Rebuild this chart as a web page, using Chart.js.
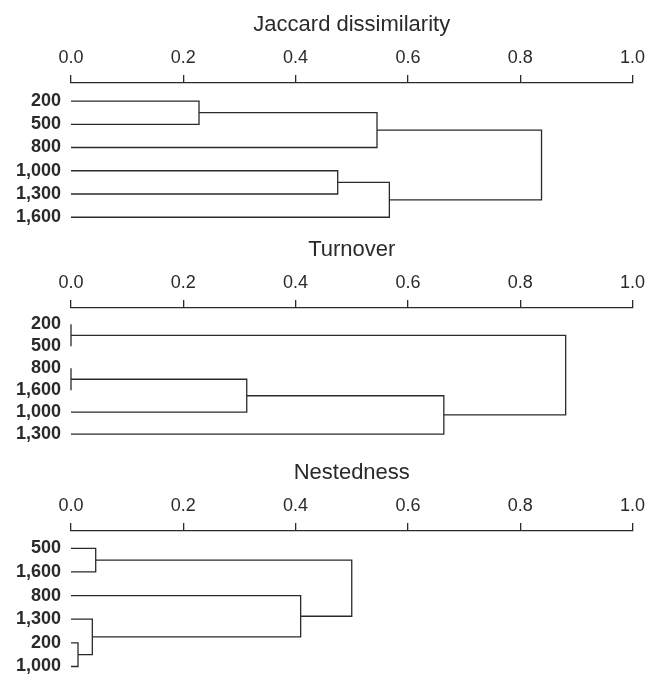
<!DOCTYPE html>
<html>
<head>
<meta charset="utf-8">
<script src="https://cdn.jsdelivr.net/npm/chart.js@4"></script>
<style>
  html, body { margin: 0; padding: 0; background: #fff; }
  #wrap { position: relative; width: 651px; height: 674px; overflow: hidden; }
  .panel { position: absolute; left: 0; width: 651px; }
</style>
</head>
<body>
<div id="wrap">
  <div class="panel" style="top:0;height:242px"><canvas id="c1"></canvas></div>
  <div class="panel" style="top:225px;height:240px"><canvas id="c2"></canvas></div>
  <div class="panel" style="top:448px;height:243px"><canvas id="c3"></canvas></div>
</div>
<script>
// leaf order (top to bottom) and merges [childA, childB, height]
// child index < 6 is a leaf, otherwise cluster (6 + merge row)
const jaccardLeaves = ['200', '500', '800', '1,000', '1,300', '1,600'];
const jaccardMerges = [[0, 1, 0.228], [3, 4, 0.475], [6, 2, 0.545], [7, 5, 0.567], [8, 9, 0.838]];

const turnoverLeaves = ['200', '500', '800', '1,600', '1,000', '1,300'];
const turnoverMerges = [[0, 1, 0], [2, 3, 0], [7, 4, 0.313], [8, 5, 0.664], [6, 9, 0.881]];

const nestedLeaves = ['500', '1,600', '800', '1,300', '200', '1,000'];
const nestedMerges = [[4, 5, 0.0125], [0, 1, 0.044], [3, 6, 0.038], [2, 8, 0.409], [7, 9, 0.50]];

const xTicks = [0, 0.2, 0.4, 0.6, 0.8, 1.0];

const ink = '#2a2a2a';
const font = 'Arial, "Liberation Sans", Helvetica, sans-serif';

// build the bracket polylines from the merge table
function brackets(leaves, merges) {
  const pos = leaves.map((_, i) => ({ y: i, h: 0 }));
  const sets = [];
  merges.forEach(m => {
    const a = pos[m[0]], b = pos[m[1]], h = m[2];
    sets.push({
      data: [{ x: a.h, y: a.y }, { x: h, y: a.y }, { x: h, y: b.y }, { x: b.h, y: b.y }],
      showLine: true, borderColor: ink, borderWidth: 1.3, pointRadius: 0,
      fill: false, tension: 0, clip: false
    });
    pos.push({ y: (a.y + b.y) / 2, h: h });
  });
  return sets;
}

function dendro(id, title, leaves, merges, yMin, yMax) {
  new Chart(document.getElementById(id).getContext('2d'), {
    type: 'scatter',
    data: { datasets: brackets(leaves, merges) },
    options: {
      responsive: true, maintainAspectRatio: false, animation: false,
      layout: { padding: { top: 0, right: 14, bottom: 4, left: 0 } },
      plugins: { legend: { display: false }, tooltip: { enabled: false } },
      scales: {
        x: {
          type: 'linear', position: 'top', min: 0, max: 1,
          afterBuildTicks: s => { s.ticks = xTicks.map(v => ({ value: v })); },
          afterFit: s => { s.height = 83; },
          ticks: { color: ink, padding: 6, font: { family: font, size: 18 },
                   maxRotation: 0, callback: v => v.toFixed(1) },
          grid: { drawOnChartArea: false, drawTicks: true, tickLength: 8, color: ink, lineWidth: 1.3 },
          border: { display: true, color: ink, width: 1.3 },
          title: { display: true, text: title, color: ink,
                   font: { family: font, size: 22 }, padding: { top: 12, bottom: 0 } }
        },
        y: {
          type: 'linear', reverse: true, min: yMin, max: yMax,
          afterBuildTicks: s => { s.ticks = leaves.map((_, i) => ({ value: i })); },
          afterFit: s => { s.width = 71; },
          ticks: { color: ink, padding: 10, autoSkip: false,
                   font: { family: font, size: 18, weight: 'bold' },
                   callback: v => leaves[v] },
          grid: { display: false, drawTicks: false },
          border: { display: false }
        }
      }
    }
  });
}

dendro('c1', 'Jaccard dissimilarity', jaccardLeaves, jaccardMerges, -0.776, 5.17);
dendro('c2', 'Turnover', turnoverLeaves, turnoverMerges, -0.743, 5.456);
dendro('c3', 'Nestedness', nestedLeaves, nestedMerges, -0.733, 5.157);
</script>
</body>
</html>
